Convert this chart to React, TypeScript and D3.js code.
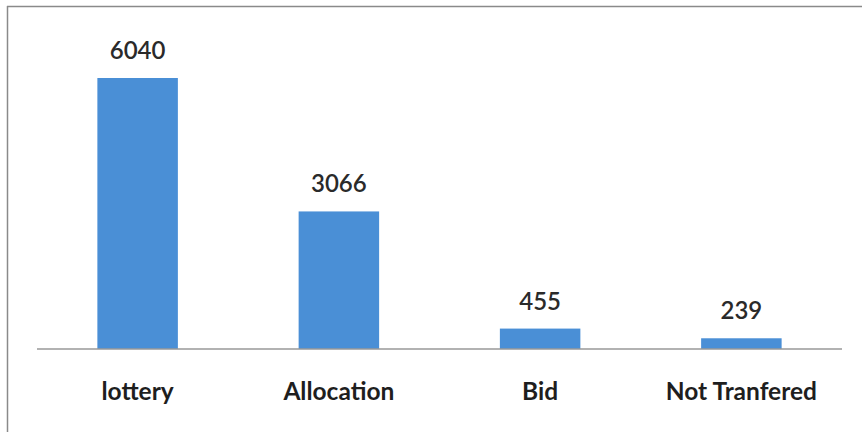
import React from "react";
import * as d3 from "d3";

const categories = ["lottery", "Allocation", "Bid", "Not Tranfered"];
const values = [6040, 3066, 455, 239];

const W = 862;
const H = 432;

export default function App() {
  const x = d3
    .scaleBand<string>()
    .domain(categories)
    .range([37, 842])
    .paddingInner(0.6)
    .paddingOuter(0.3);
  const y = d3.scaleLinear().domain([0, 6040]).range([349, 78]);
  const font = "Lato, 'Open Sans', sans-serif";
  return (
    <div style={{ position: "absolute", left: 0, top: 0 }}>
      <svg width={W} height={H} style={{ display: "block", background: "#fff" }}>
        <rect x={0} y={0} width={W} height={H} fill="#fff" />
        <line x1={7.5} x2={7.5} y1={6} y2={H} stroke="#8a8a8a" strokeWidth={1.5} />
        <line x1={7} x2={W} y1={6.5} y2={6.5} stroke="#8a8a8a" strokeWidth={1.5} />
        {categories.map((c, i) => (
          <rect
            key={c}
            x={x(c)}
            y={y(values[i])}
            width={x.bandwidth()}
            height={y(0) - y(values[i])}
            fill="#4a8fd6"
          />
        ))}
        <line x1={37} x2={842} y1={349} y2={349} stroke="#999" strokeWidth={1.5} />
        {categories.map((c, i) => (
          <text
            key={"v" + c}
            x={(x(c) ?? 0) + x.bandwidth() / 2}
            y={y(values[i]) - 19}
            textAnchor="middle"
            fontFamily={font}
            fontSize={24}
            fontWeight={600}
            fill="#2a2a2a"
          >
            {values[i]}
          </text>
        ))}
        {categories.map((c) => (
          <text
            key={"c" + c}
            x={(x(c) ?? 0) + x.bandwidth() / 2}
            y={400}
            textAnchor="middle"
            fontFamily={font}
            fontSize={24.5}
            fontWeight={700}
            fill="#1e1e1e"
          >
            {c}
          </text>
        ))}
      </svg>
    </div>
  );
}
